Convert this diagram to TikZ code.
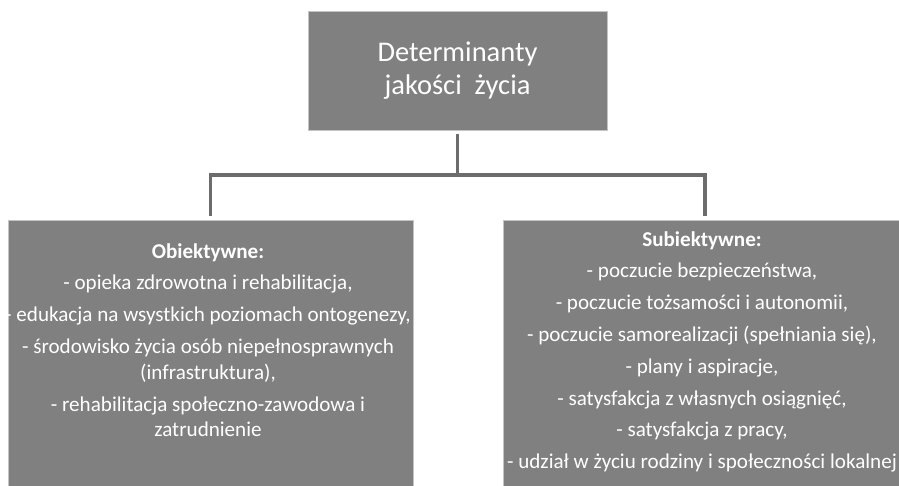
\documentclass[tikz,border=0pt]{standalone}
\usepackage{fontspec}
\setmainfont{Carlito}
\definecolor{boxgray}{RGB}{128,128,128}
\definecolor{linegray}{RGB}{108,108,108}
\definecolor{edgegray}{RGB}{196,196,196}

\begin{document}
\begin{tikzpicture}[x=1pt,y=-1pt]
\tikzstyle{box}=[rectangle,fill=boxgray,draw=edgegray,line width=0.8pt,inner sep=0pt]
\tikzstyle{txt}=[align=center,text=white,inner sep=0pt,font=\fontsize{21.1}{25.8}\selectfont]
\tikzstyle{conn}=[draw=linegray,line width=3.5pt]
\useasboundingbox (0,0) rectangle (899,485);
\clip (0,0) rectangle (899,485);
\node[box,minimum width=299pt,minimum height=119pt,text=white,align=center,font=\fontsize{28.5}{33}\selectfont] (top) at (457.5,70.5) {Determinanty\\ jakości\ \ życia};
\node[box,minimum width=405pt,minimum height=290pt,anchor=north] (lbox) at (210.5,220) {};
\node[box,minimum width=404pt,minimum height=290pt,anchor=north] (rbox) at (705,220) {};
\node[txt,anchor=north] (ltxt) at (208,243) {\textbf{Obiektywne:}\\[6pt]
- opieka zdrowotna i rehabilitacja,\\[6pt]
- edukacja na wsystkich poziomach ontogenezy,\\[6pt]
- środowisko życia osób niepełnosprawnych\\
(infrastruktura),\\[6pt]
- rehabilitacja społeczno-zawodowa i\\
zatrudnienie};
\node[txt,anchor=north] (rtxt) at (702,231) {\textbf{Subiektywne:}\\[6pt]
- poczucie bezpieczeństwa,\\[6pt]
- poczucie tożsamości i autonomii,\\[6pt]
- poczucie samorealizacji (spełniania się),\\[6pt]
- plany i aspiracje,\\[6pt]
- satysfakcja z własnych osiągnięć,\\[6pt]
- satysfakcja z pracy,\\[6pt]
- udział w życiu rodziny i społeczności lokalnej};
% connectors
\coordinate (bus) at (457.5,175);
\draw[conn,shorten <=4pt] (top.south) -- (bus);
\draw[conn,shorten >=4pt] (bus) -| (lbox.north);
\draw[conn,shorten >=4pt] (bus) -| (rbox.north);
\end{tikzpicture}
\end{document}
